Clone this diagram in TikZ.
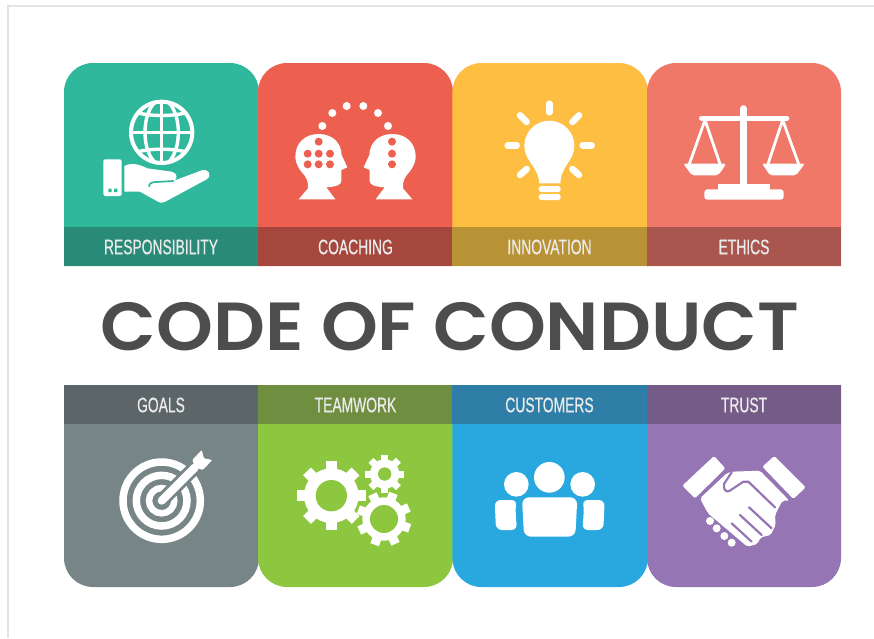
\documentclass[tikz,border=0pt]{standalone}
\usepackage{fontspec}
\setmainfont{Liberation Sans}
\newfontfamily\labelfont[FakeStretch=0.66,FakeBold=0.6]{Liberation Sans}
\newfontfamily\titlefont[FakeStretch=1.065]{Poppins SemiBold}
\definecolor{cTeal}{HTML}{2FB89C}\definecolor{bTeal}{HTML}{2A8A78}
\definecolor{cRed}{HTML}{ED604F}\definecolor{bRed}{HTML}{A5473D}
\definecolor{cYel}{HTML}{FDBE42}\definecolor{bYel}{HTML}{B89234}
\definecolor{cSal}{HTML}{F07868}\definecolor{bSal}{HTML}{A9574E}
\definecolor{cGry}{HTML}{788587}\definecolor{bGry}{HTML}{5C6668}
\definecolor{cGrn}{HTML}{8DC63F}\definecolor{bGrn}{HTML}{708E3F}
\definecolor{cBlu}{HTML}{29A8E0}\definecolor{bBlu}{HTML}{2F7EA8}
\definecolor{cPur}{HTML}{9575B4}\definecolor{bPur}{HTML}{755C88}
\definecolor{cTitle}{HTML}{4D4D4D}
\definecolor{cFrame}{HTML}{E3E3E3}
\tikzset{
  lbl/.style={text=white!92!black,font=\labelfont\fontsize{21}{21}\selectfont,inner sep=0pt,anchor=center},
  icl/.style={draw=white,line cap=round,line join=round},
  zoomed/.style={x=0.33333pt,y=-0.33333pt},
}
\newcommand{\toppanel}[4]{%
  \fill[#3] (#1,266) [rounded corners=29pt] -- (#1,63) -- (#2,63) [sharp corners] -- (#2,266) -- cycle;
  \fill[#4] (#1,227) rectangle (#2,266);}
\newcommand{\botpanel}[4]{%
  \fill[#3] (#1,385) [rounded corners=29pt] -- (#1,587) -- (#2,587) [sharp corners] -- (#2,385) -- cycle;
  \fill[#4] (#1,385) rectangle (#2,424);}
\newcommand{\gearicon}[9]{%
  \fill[#9] (#1,#2) circle[radius={#4+6}];
  \foreach \k in {1,...,#6}{
    \draw[white,line width=#8pt,line cap=butt,rounded corners=1pt] (#1,#2) -- ++({#7+360/#6*\k}:#3);
  }
  \fill[white] (#1,#2) circle[radius=#4];
  \fill[#9] (#1,#2) circle[radius=#5];}
\begin{document}
\begin{tikzpicture}[x=1pt,y=-1pt]
\useasboundingbox (0,0) rectangle (874,638);
\fill[white] (0,0) rectangle (874,638);
\draw[cFrame,line width=1.7pt] (8,638) -- (8,6) -- (874,6);

% panels
\toppanel{64}{259}{cTeal}{bTeal}
\toppanel{258}{453}{cRed}{bRed}
\toppanel{452.4}{648}{cYel}{bYel}
\toppanel{647}{841}{cSal}{bSal}
\botpanel{64}{259}{cGry}{bGry}
\botpanel{258}{453}{cGrn}{bGrn}
\botpanel{452.4}{648}{cBlu}{bBlu}
\botpanel{647}{841}{cPur}{bPur}

% labels
\node[lbl] (lResp) at (161,247) {RESPONSIBILITY};
\node[lbl] (lCoach) at (355.5,247) {COACHING};
\node[lbl] (lInno) at (549.5,247) {INNOVATION};
\node[lbl] (lEth) at (744,247) {ETHICS};
\node[lbl] (lGoal) at (161,405) {GOALS};
\node[lbl] (lTeam) at (355.5,405) {TEAMWORK};
\node[lbl] (lCust) at (549.5,405) {CUSTOMERS};
\node[lbl] (lTrust) at (744,405) {TRUST};

% title
\node[text=cTitle,font=\titlefont\fontsize{68}{68}\selectfont,inner sep=0pt,anchor=center] (title) at (450,327) {CODE OF CONDUCT};

% globe + hand
\begin{scope}[shift={(60,60)},zoomed]
  \draw[white,line width=4pt] (305,217) circle[radius=92];
  \begin{scope}
    \clip (305,217) circle[radius=93];
    \draw[white,line width=3.4pt] (305,120) -- (305,315);
    \draw[white,line width=3.4pt] (305,217) ellipse[x radius=50,y radius=98];
    \draw[white,line width=3.4pt] (205,217) -- (405,217);
    \draw[white,line width=3.4pt] (205,150) .. controls (260,172) and (350,172) .. (405,150);
    \draw[white,line width=3.4pt] (205,284) .. controls (260,262) and (350,262) .. (405,284);
  \end{scope}
  \fill[white,rounded corners=1.5pt] (130,298) rectangle (185,408);
  \fill[cTeal] (145,386) rectangle (155,396) (162,386) rectangle (172,396);
  \fill[white] (193,318) .. controls (215,306) and (240,314) .. (262,325) -- (335,335) .. controls (352,338) and (355,358) .. (340,363) -- (425,331) .. controls (445,325) and (458,345) .. (440,358) -- (314,426) .. controls (306,430) and (300,428) .. (294,425) -- (240,395) -- (193,395) -- cycle;
  \draw[cTeal,line width=1.7pt,line cap=round] (267,379) .. controls (268,368) and (278,366) .. (290,366) -- (340,363);
\end{scope}

% heads
\begin{scope}[shift={(258,60)},zoomed]
  \def\headpath{(182,222) .. controls (225,222) and (250,250) .. (251,285) -- (268,322) -- (250,330) -- (250,362) .. controls (250,375) and (235,380) .. (205,382) -- (232,418) -- (122,418) -- (150,385) .. controls (152,365) and (145,350) .. (130,335) .. controls (115,315) and (112,300) .. (112,290) .. controls (112,250) and (140,222) .. (182,222) -- cycle}
  \fill[white] \headpath;
  \begin{scope}[xshift=585*0.33333pt,x=-0.33333pt]
    \fill[white] \headpath;
  \end{scope}
  \foreach \x/\y in {182/245,149/281,182/281,216/281,149/313,182/313,216/313,402/245,402/281,402/313}
    \fill[cRed] (\x,\y) circle[radius=12];
  \foreach \x/\y in {193/198,223/159,266/138,316/138,360/159,390/198}
    \fill[white] (\x,\y) circle[radius=12];
\end{scope}

% bulb
\begin{scope}[shift={(452,60)},zoomed]
  \fill[white] (292,257) circle[radius=75];
  \fill[white] (231,300) -- (353,300) .. controls (338,325) and (326,340) .. (325,370) -- (262,370) .. controls (260,340) and (246,325) .. (231,300) -- cycle;
  \fill[white,rounded corners=2.5pt] (260,378) rectangle (326,396);
  \fill[white,rounded corners=2.5pt] (260,402) rectangle (326,420);
  \foreach \a/\b/\c/\d in {292/131/292/157,204/166/224/186,381/166/361/186,167/256/194/256,392/256/419/256,204/345/224/327,381/345/361/327}
    \draw[icl,line width=6.5pt] (\a,\b) -- (\c,\d);
\end{scope}

% scales
\begin{scope}[shift={(646,60)},zoomed]
  \draw[icl,line width=7pt] (292,146) -- (292,378);
  \draw[icl,line width=5.5pt] (167,175) -- (422,175);
  \draw[white,line width=2.8pt,line join=round] (130,312) -- (177,180) -- (222,312);
  \draw[white,line width=2.8pt,line join=round] (366,312) -- (410,180) -- (458,312);
  \fill[white,rounded corners=2pt] (112,311) -- (240,311) -- (232,325) -- (216,346) -- (138,346) -- (122,325) -- cycle;
  \fill[white,rounded corners=2pt] (348,311) -- (476,311) -- (466,325) -- (450,346) -- (372,346) -- (358,325) -- cycle;
  \fill[white] (216,372) rectangle (372,392);
  \fill[white,rounded corners=3pt] (175,388) rectangle (413,419);
\end{scope}

% target
\begin{scope}[shift={(60,380)},zoomed]
  \draw[white,line width=7.5pt] (305,362) circle[radius=116];
  \draw[white,line width=7.5pt] (305,362) circle[radius=76];
  \draw[white,line width=6.5pt] (305,362) circle[radius=38];
  \draw[cGry,line width=14pt] (305,362) -- (400,267);
  \draw[white,line width=8pt,line cap=round] (305,362) -- (405,262);
  \fill[white,rounded corners=1pt] (397,240) -- (425,210) -- (432,235) -- (457,240) -- (428,270) -- (405,262) -- cycle;
\end{scope}

% gears
\begin{scope}[shift={(258,380)},zoomed]
  \gearicon{380}{282}{58}{44}{20}{8}{0}{7}{cGrn}
  \gearicon{220}{347}{103}{82}{47}{8}{0}{11}{cGrn}
  \gearicon{378}{417}{82}{65}{42}{8}{20}{9}{cGrn}
\end{scope}

% people
\begin{scope}[shift={(452,380)},zoomed]
  \fill[white] (292,292) circle[radius=46];
  \fill[white] (193,313) circle[radius=37];
  \fill[white] (392,313) circle[radius=37];
  \fill[white,rounded corners=7pt] (210,352) -- (376,352) -- (370,470) -- (216,470) -- cycle;
  \fill[white,rounded corners=6pt] (128,360) -- (196,360) .. controls (190,385) and (192,420) .. (196,450) -- (132,450) -- cycle;
  \fill[white,rounded corners=6pt] (458,360) -- (390,360) .. controls (396,385) and (394,420) .. (390,450) -- (454,450) -- cycle;
\end{scope}

% handshake
\begin{scope}[shift={(646,380)},zoomed]
  \fill[white,rounded corners=1.5pt] (109,317) -- (204,228) -- (238,265) -- (147,355) -- cycle;
  \fill[white,rounded corners=1.5pt] (349,260) -- (385,228) -- (479,322) -- (442,357) -- cycle;
  \fill[white,rounded corners=2pt] (162,355) -- (242,280) -- (257,275) -- (342,272) -- (430,362) -- (409,362) -- (387,405) -- (389,435) -- (374,465) -- (344,472) -- (334,492) -- (304,500) -- (186,400) -- cycle;
  \foreach \x/\y in {192/423,212/445,235/468,257/488}
    \fill[white] (\x,\y) circle[radius=12];
  \draw[cPur,line width=2.2pt,line join=round,line cap=round] (257,277) -- (235,310) .. controls (230,325) and (238,338) .. (250,333) -- (292,305) -- (307,305) -- (387,382);
  \draw[cPur,line width=2.2pt,line cap=round] (309,382) -- (377,445);
  \draw[cPur,line width=2.2pt,line cap=round] (282,405) -- (347,465);
  \draw[cPur,line width=2.2pt,line cap=round] (257,430) -- (317,485);
\end{scope}
\end{tikzpicture}
\end{document}
